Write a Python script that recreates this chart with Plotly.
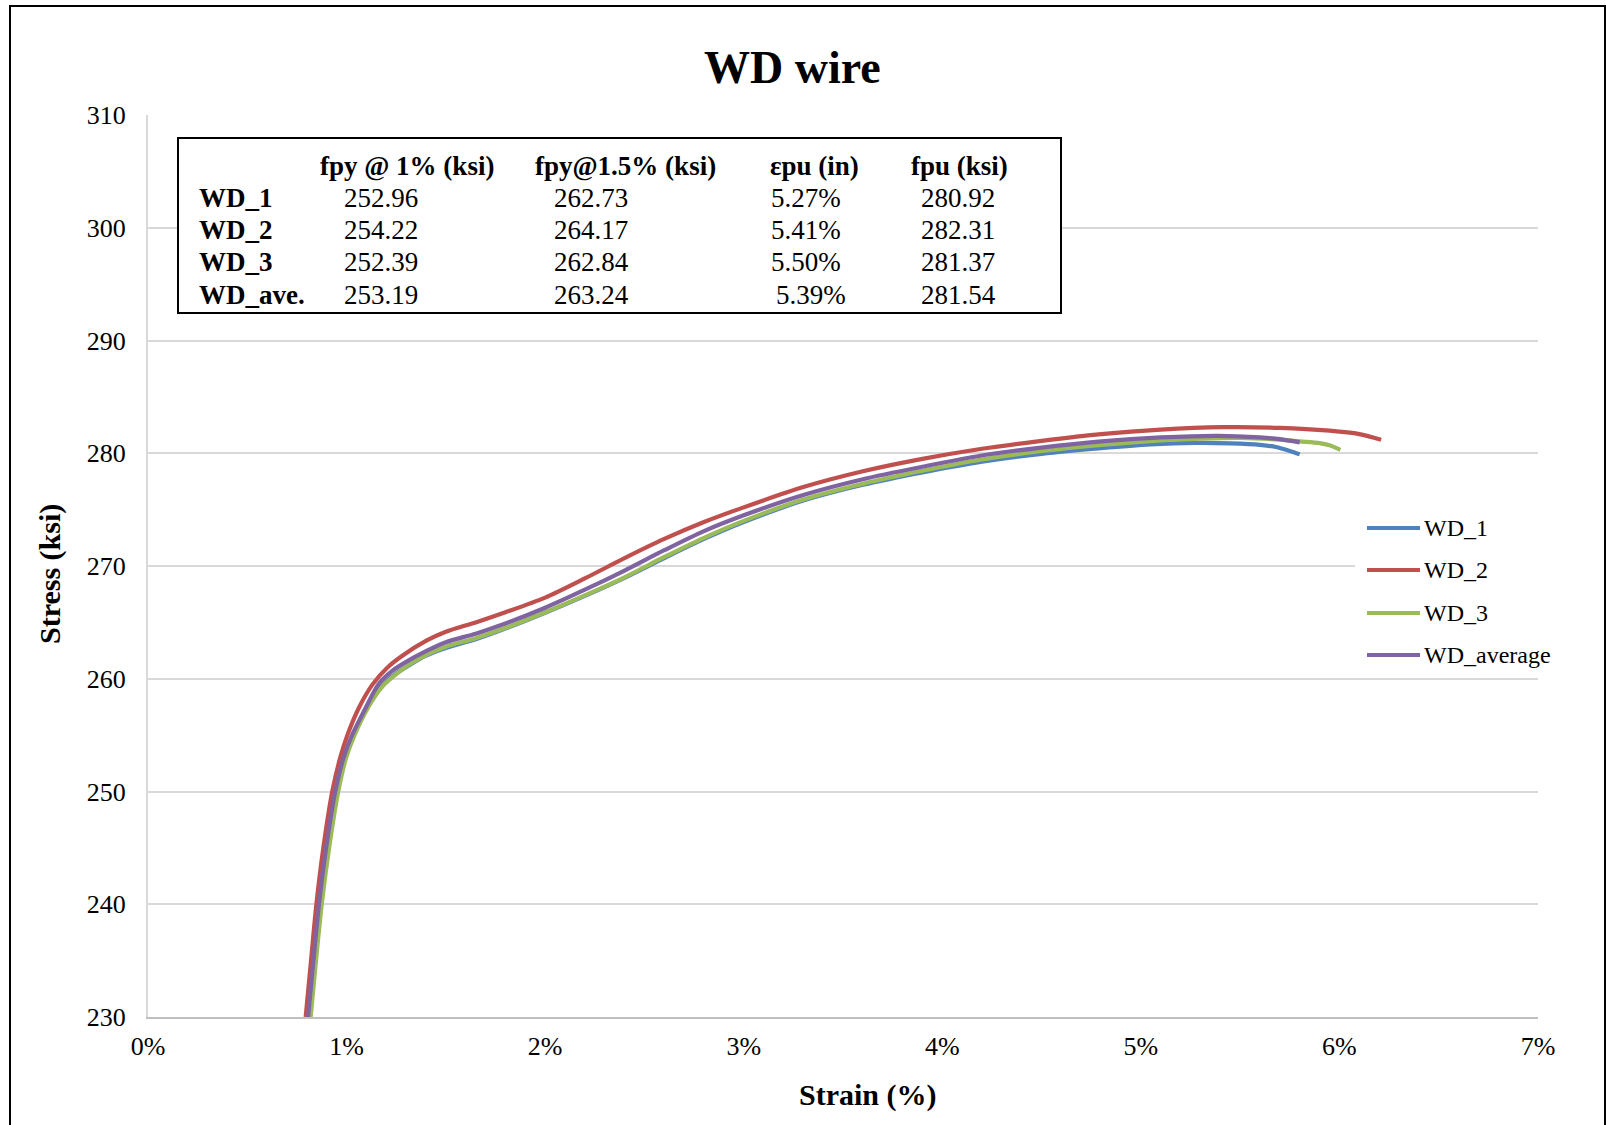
import plotly.graph_objects as go

# ---- stress-strain curves (strain in %, stress in ksi) ----
wd1_strain = [0.815, 0.842, 0.871, 0.908, 0.953, 0.994, 1.036, 1.105, 1.175, 1.245, 1.320, 1.400,
              1.500, 1.650, 1.800, 2.000, 2.200, 2.400, 2.600, 2.800, 3.000, 3.300, 3.600, 3.900,
              4.200, 4.500, 4.800, 5.050, 5.270, 5.450, 5.600, 5.680, 5.750, 5.800]
wd1_stress = [230.0, 235.0, 240.0, 245.0, 250.0, 253.0, 255.0, 257.5, 259.3, 260.4, 261.25, 262.05,
              262.73, 263.5, 264.45, 265.85, 267.35, 268.95, 270.7, 272.4, 273.9, 275.8, 277.2, 278.3,
              279.25, 279.95, 280.45, 280.78, 280.92, 280.88, 280.75, 280.55, 280.2, 279.9]

wd2_strain = [0.794, 0.821, 0.848, 0.883, 0.928, 0.968, 1.004, 1.064, 1.131, 1.206, 1.277, 1.404,
              1.500, 1.650, 1.800, 2.000, 2.200, 2.400, 2.600, 2.800, 3.000, 3.300, 3.600,
              3.900, 4.200, 4.500, 4.800, 5.100, 5.410, 5.700, 5.950, 6.100, 6.210]
wd2_stress = [230.0, 235.0, 240.0, 245.0, 250.0, 253.0, 255.0, 257.5, 259.5, 261.0, 262.0, 263.4,
              264.17, 265.0, 265.9, 267.2, 268.9, 270.7, 272.4, 273.9, 275.2, 277.0, 278.4,
              279.5, 280.4, 281.1, 281.7, 282.1, 282.31, 282.25, 282.0, 281.7, 281.2]

wd3_strain = [0.819, 0.846, 0.875, 0.912, 0.958, 0.998, 1.040, 1.110, 1.180, 1.250, 1.320, 1.400,
              1.500, 1.650, 1.800, 2.000, 2.200, 2.400, 2.600, 2.800, 3.000, 3.300, 3.600, 3.900,
              4.200, 4.500, 4.800, 5.100, 5.300, 5.500, 5.700, 5.800, 5.900, 5.950, 6.005]
wd3_stress = [230.0, 235.0, 240.0, 245.0, 250.0, 253.0, 255.0, 257.5, 259.3, 260.4, 261.3, 262.1,
              262.84, 263.6, 264.5, 265.9, 267.4, 269.0, 270.8, 272.5, 274.0, 275.9, 277.3, 278.45,
              279.45, 280.2, 280.75, 281.15, 281.3, 281.37, 281.2, 281.05, 280.9, 280.7, 280.3]

wda_strain = [0.806, 0.833, 0.861, 0.897, 0.943, 0.985, 1.025, 1.090, 1.160, 1.230, 1.300, 1.400,
              1.500, 1.650, 1.800, 2.000, 2.200, 2.400, 2.600, 2.800, 3.000, 3.300, 3.600,
              3.900, 4.200, 4.500, 4.800, 5.100, 5.390, 5.600, 5.700, 5.800]
wda_stress = [230.0, 235.0, 240.0, 245.0, 250.0, 253.0, 254.9, 257.2, 259.5, 260.7, 261.5, 262.45,
              263.24, 264.0, 264.9, 266.3, 267.9, 269.6, 271.4, 273.1, 274.5, 276.3, 277.7,
              278.8, 279.8, 280.5, 281.05, 281.4, 281.54, 281.4, 281.25, 280.96]

series_names = ["WD_1", "WD_2", "WD_3", "WD_average"]
series_colors = ["#4F81BD", "#C0504D", "#9BBB59", "#8064A2"]

# ---- summary table ----
table_header = ["fpy @ 1% (ksi)", "fpy@1.5% (ksi)", "\u03b5pu (in)", "fpu (ksi)"]
table_rows = ["WD_1", "WD_2", "WD_3", "WD_ave."]
fpy_1 = [252.96, 254.22, 252.39, 253.19]
fpy_15 = [262.73, 264.17, 262.84, 263.24]
eps_pu = [5.27, 5.41, 5.50, 5.39]
f_pu = [280.92, 282.31, 281.37, 281.54]

# ---- axes ----
x_ticks = [0, 1, 2, 3, 4, 5, 6, 7]
y_ticks = [230, 240, 250, 260, 270, 280, 290, 300, 310]

FONT = "Liberation Serif, Times New Roman, serif"
FIG_W, FIG_H = 1606, 1125
L, R, T, B = 148, 68, 115, 108
PW, PH = FIG_W - L - R, FIG_H - T - B


def fx(p):
    return (p - L) / PW


def fy(p):
    return (T + PH - p) / PH


fig = go.Figure()
curves = [(wd1_strain, wd1_stress), (wd2_strain, wd2_stress),
          (wd3_strain, wd3_stress), (wda_strain, wda_stress)]
for (xs, ys), name, color in zip(curves, series_names, series_colors):
    fig.add_trace(go.Scatter(x=xs, y=ys, mode="lines", name=name,
                             line=dict(color=color, width=4.2, shape="spline", smoothing=0.8),
                             cliponaxis=True, showlegend=False))

fig.update_xaxes(range=[0, 7], tickvals=x_ticks, ticktext=[f"{v}%" for v in x_ticks],
                 showgrid=False, zeroline=False, showline=True, linecolor="#BFBFBF", linewidth=2,
                 ticks="", ticklabelstandoff=5,
                 tickfont=dict(family=FONT, size=26, color="black"))
fig.update_yaxes(range=[230, 310], tickvals=y_ticks, showgrid=True, gridcolor="#D9D9D9",
                 gridwidth=2, zeroline=False, showline=True, linecolor="#D9D9D9", linewidth=2,
                 ticks="", ticklabelstandoff=15,
                 tickfont=dict(family=FONT, size=26, color="black"))

shapes = []
annotations = []

# outer frame
shapes.append(dict(type="rect", xref="paper", yref="paper",
                   x0=fx(10), x1=fx(1605), y0=fy(1140), y1=fy(6),
                   line=dict(color="black", width=2), fillcolor="rgba(0,0,0,0)", layer="above"))

# title and axis titles
annotations.append(dict(text="<b>WD wire</b>", xref="paper", yref="paper", x=fx(792), y=fy(67),
                        xanchor="center", yanchor="middle", showarrow=False,
                        font=dict(family=FONT, size=46, color="black")))
annotations.append(dict(text="<b>Strain (%)</b>", xref="paper", yref="paper", x=fx(868), y=fy(1095),
                        xanchor="center", yanchor="middle", showarrow=False,
                        font=dict(family=FONT, size=30, color="black")))
annotations.append(dict(text="<b>Stress (ksi)</b>", xref="paper", yref="paper", x=fx(50), y=fy(574),
                        xanchor="center", yanchor="middle", showarrow=False, textangle=-90,
                        font=dict(family=FONT, size=30, color="black")))

# summary table box
shapes.append(dict(type="rect", xref="paper", yref="paper",
                   x0=fx(178), x1=fx(1061), y0=fy(313), y1=fy(138),
                   line=dict(color="black", width=2), fillcolor="white", layer="above"))
col_x = [381, 591, 806, 958]
header_x = [407, 625, 814, 959]
row_y = [198, 230, 262, 295]
tfont = dict(family=FONT, size=27, color="black")
for hx, h in zip(header_x, table_header):
    annotations.append(dict(text=f"<b>{h}</b>", xref="paper", yref="paper", x=fx(hx), y=fy(166),
                            xanchor="center", yanchor="middle", showarrow=False, font=tfont))
for i, rname in enumerate(table_rows):
    yy = fy(row_y[i])
    annotations.append(dict(text=f"<b>{rname}</b>", xref="paper", yref="paper", x=fx(197), y=yy,
                            xanchor="left", yanchor="middle", showarrow=False, font=tfont))
    cells = [f"{fpy_1[i]:.2f}", f"{fpy_15[i]:.2f}", f"{eps_pu[i]:.2f}%", f"{f_pu[i]:.2f}"]
    for cx, c in zip(col_x, cells):
        if c.endswith("%") and i == len(table_rows) - 1:
            cx += 5
        annotations.append(dict(text=c, xref="paper", yref="paper", x=fx(cx), y=yy,
                                xanchor="center", yanchor="middle", showarrow=False, font=tfont))

# legend
shapes.append(dict(type="rect", xref="paper", yref="paper",
                   x0=fx(1355), x1=fx(1570), y0=fy(675), y1=fy(505),
                   line=dict(width=0), fillcolor="white", layer="above"))
legend_y = [528, 570, 613, 655]
for name, color, ly in zip(series_names, series_colors, legend_y):
    shapes.append(dict(type="line", xref="paper", yref="paper",
                       x0=fx(1367), x1=fx(1420), y0=fy(ly), y1=fy(ly),
                       line=dict(color=color, width=4), layer="above"))
    annotations.append(dict(text=name, xref="paper", yref="paper", x=fx(1422), y=fy(ly),
                            xanchor="left", yanchor="middle", showarrow=False,
                            font=dict(family=FONT, size=24, color="black")))

fig.update_layout(width=FIG_W, height=FIG_H,
                  margin=dict(l=L, r=R, t=T, b=B),
                  paper_bgcolor="white", plot_bgcolor="white",
                  font=dict(family=FONT, color="black"),
                  showlegend=False, shapes=shapes, annotations=annotations)

fig.write_html("out.html")
